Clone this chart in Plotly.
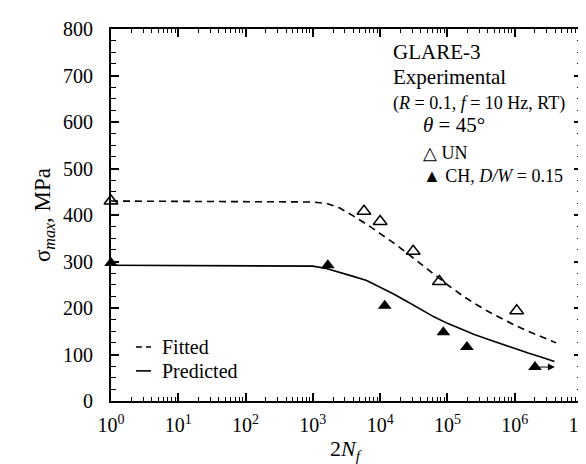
import plotly.graph_objects as go
import math

# ---------------- data ----------------
un_N = [1, 5750, 10000, 31000, 76000, 1070000]
un_S = [430, 408, 386, 322, 257, 194]

ch_N = [1, 1670, 11700, 87000, 195000, 2000000]
ch_S = [297, 292, 205, 148, 116, 73]

fit_N = [1, 1000, 1585, 2512, 3981, 6310, 10000, 15849, 25119, 39811, 63096,
         100000, 158489, 251189, 398107, 630957, 1000000, 1584893, 2511886,
         3981072, 4140000]
fit_S = [430, 428, 425, 415, 398, 380, 360, 340, 318, 295, 272,
         250, 229, 210, 193, 178, 163, 150, 138, 127, 125]

pred_N = [1, 1000, 1585, 2512, 3981, 6310, 10000, 15849, 25119, 39811, 63096,
          100000, 158489, 251189, 398107, 630957, 1000000, 1584893, 2511886,
          3900000]
pred_S = [292, 290, 285, 277, 268, 259, 245, 230, 214, 197, 181,
          167, 155, 143, 133, 123, 112, 103, 94, 85]

runout_arrow_N = [2200000, 3950000]   # run-out arrow (tail, tip)
runout_arrow_S = 73

x_tick_vals = [1, 10, 100, 1000, 10000, 100000, 1000000, 10000000]
x_tick_text = ["10<sup>0</sup>", "10<sup>1</sup>", "10<sup>2</sup>", "10<sup>3</sup>",
               "10<sup>4</sup>", "10<sup>5</sup>", "10<sup>6</sup>", "10<sup>7</sup>"]
y_tick_vals = [0, 100, 200, 300, 400, 500, 600, 700, 800]

FONT = "Liberation Serif, Times New Roman, serif"

fig = go.Figure()

fig.add_trace(go.Scatter(x=fit_N, y=fit_S, mode="lines",
                         line=dict(color="black", width=1.6, dash="7px,5px"),
                         showlegend=False))
fig.add_trace(go.Scatter(x=pred_N, y=pred_S, mode="lines",
                         line=dict(color="black", width=1.6),
                         showlegend=False))
fig.add_trace(go.Scatter(x=un_N, y=un_S, mode="markers", cliponaxis=False,
                         marker=dict(symbol="triangle-up-open", size=12,
                                     color="black", line=dict(width=1.5, color="black")),
                         showlegend=False))
fig.add_trace(go.Scatter(x=ch_N, y=ch_S, mode="markers", cliponaxis=False,
                         marker=dict(symbol="triangle-up", size=12, color="black",
                                     line=dict(width=0)),
                         showlegend=False))

minor_vals = [m * 10 ** d for d in range(7) for m in range(2, 10)]

axis_common = dict(showline=True, linecolor="black", linewidth=2, mirror="ticks",
                   ticks="inside", tickcolor="black", tickwidth=1.5,
                   showgrid=False, zeroline=False,
                   tickfont=dict(family=FONT, size=20, color="black"))

fig.update_xaxes(type="log", range=[-0.00001, 7.00001], tickmode="array",
                 tickvals=x_tick_vals, ticktext=x_tick_text, ticklen=8,
                 ticklabelstandoff=5, ticklabeloverflow="allow",
                 minor=dict(tickmode="array", tickvals=minor_vals, ticks="inside",
                            ticklen=4, tickwidth=1.2, tickcolor="black", showgrid=False),
                 **axis_common)
fig.update_yaxes(range=[0, 800], tickmode="array", tickvals=y_tick_vals, ticklen=8,
                 ticklabelstandoff=12,
                 minor=dict(dtick=25, ticks="inside", ticklen=5, tickwidth=1.2,
                            tickcolor="black", showgrid=False),
                 **axis_common)

annos = []
# axis titles
annos.append(dict(text="σ<sub><i>max</i></sub>, MPa", xref="paper", yref="paper",
                  x=-0.142, y=0.5, textangle=-90, showarrow=False,
                  xanchor="center", yanchor="middle",
                  font=dict(family=FONT, size=23, color="black")))
annos.append(dict(text="2<i>N</i><sub><i>f</i></sub>", xref="paper", yref="paper",
                  x=0.5, y=-0.133, showarrow=False, xanchor="center", yanchor="middle",
                  font=dict(family=FONT, size=22, color="black")))
# top-right block
block = [
    ("GLARE-3", 0.594, 0.938, 21),
    ("Experimental", 0.594, 0.872, 21),
    ("(<i>R</i> = 0.1, <i>f</i> = 10 Hz, RT)", 0.594, 0.800, 18),
    ("<i>θ</i> = 45°", 0.658, 0.742, 21),
    ("△ UN", 0.658, 0.667, 18),
    ("▲ CH, <i>D/W</i> = 0.15", 0.658, 0.605, 18),
]
for t, x, y, s in block:
    annos.append(dict(text=t, xref="paper", yref="paper", x=x, y=y, showarrow=False,
                      xanchor="left", yanchor="middle",
                      font=dict(family=FONT, size=s, color="black")))
# legend texts
annos.append(dict(text="Fitted", xref="paper", yref="paper", x=0.104, y=0.145,
                  showarrow=False, xanchor="left", yanchor="middle",
                  font=dict(family=FONT, size=20, color="black")))
annos.append(dict(text="Predicted", xref="paper", yref="paper", x=0.104, y=0.081,
                  showarrow=False, xanchor="left", yanchor="middle",
                  font=dict(family=FONT, size=20, color="black")))
# run-out arrow
annos.append(dict(x=math.log10(runout_arrow_N[1]), y=runout_arrow_S,
                  ax=math.log10(runout_arrow_N[0]), ay=runout_arrow_S,
                  xref="x", yref="y", axref="x", ayref="y", text="",
                  showarrow=True, arrowhead=2, arrowsize=1.4, arrowwidth=1,
                  arrowcolor="black"))

shapes = [
    dict(type="line", xref="paper", yref="paper", x0=0.053, x1=0.085, y0=0.145, y1=0.145,
         line=dict(color="black", width=1.6, dash="6px,4px")),
    dict(type="line", xref="paper", yref="paper", x0=0.053, x1=0.085, y0=0.081, y1=0.081,
         line=dict(color="black", width=1.6)),
]

fig.update_layout(width=586, height=464,
                  margin=dict(l=103, r=12, t=21, b=71, autoexpand=False),
                  paper_bgcolor="white", plot_bgcolor="white",
                  annotations=annos, shapes=shapes, showlegend=False,
                  font=dict(family=FONT, color="black"))

fig.write_html("out.html")
